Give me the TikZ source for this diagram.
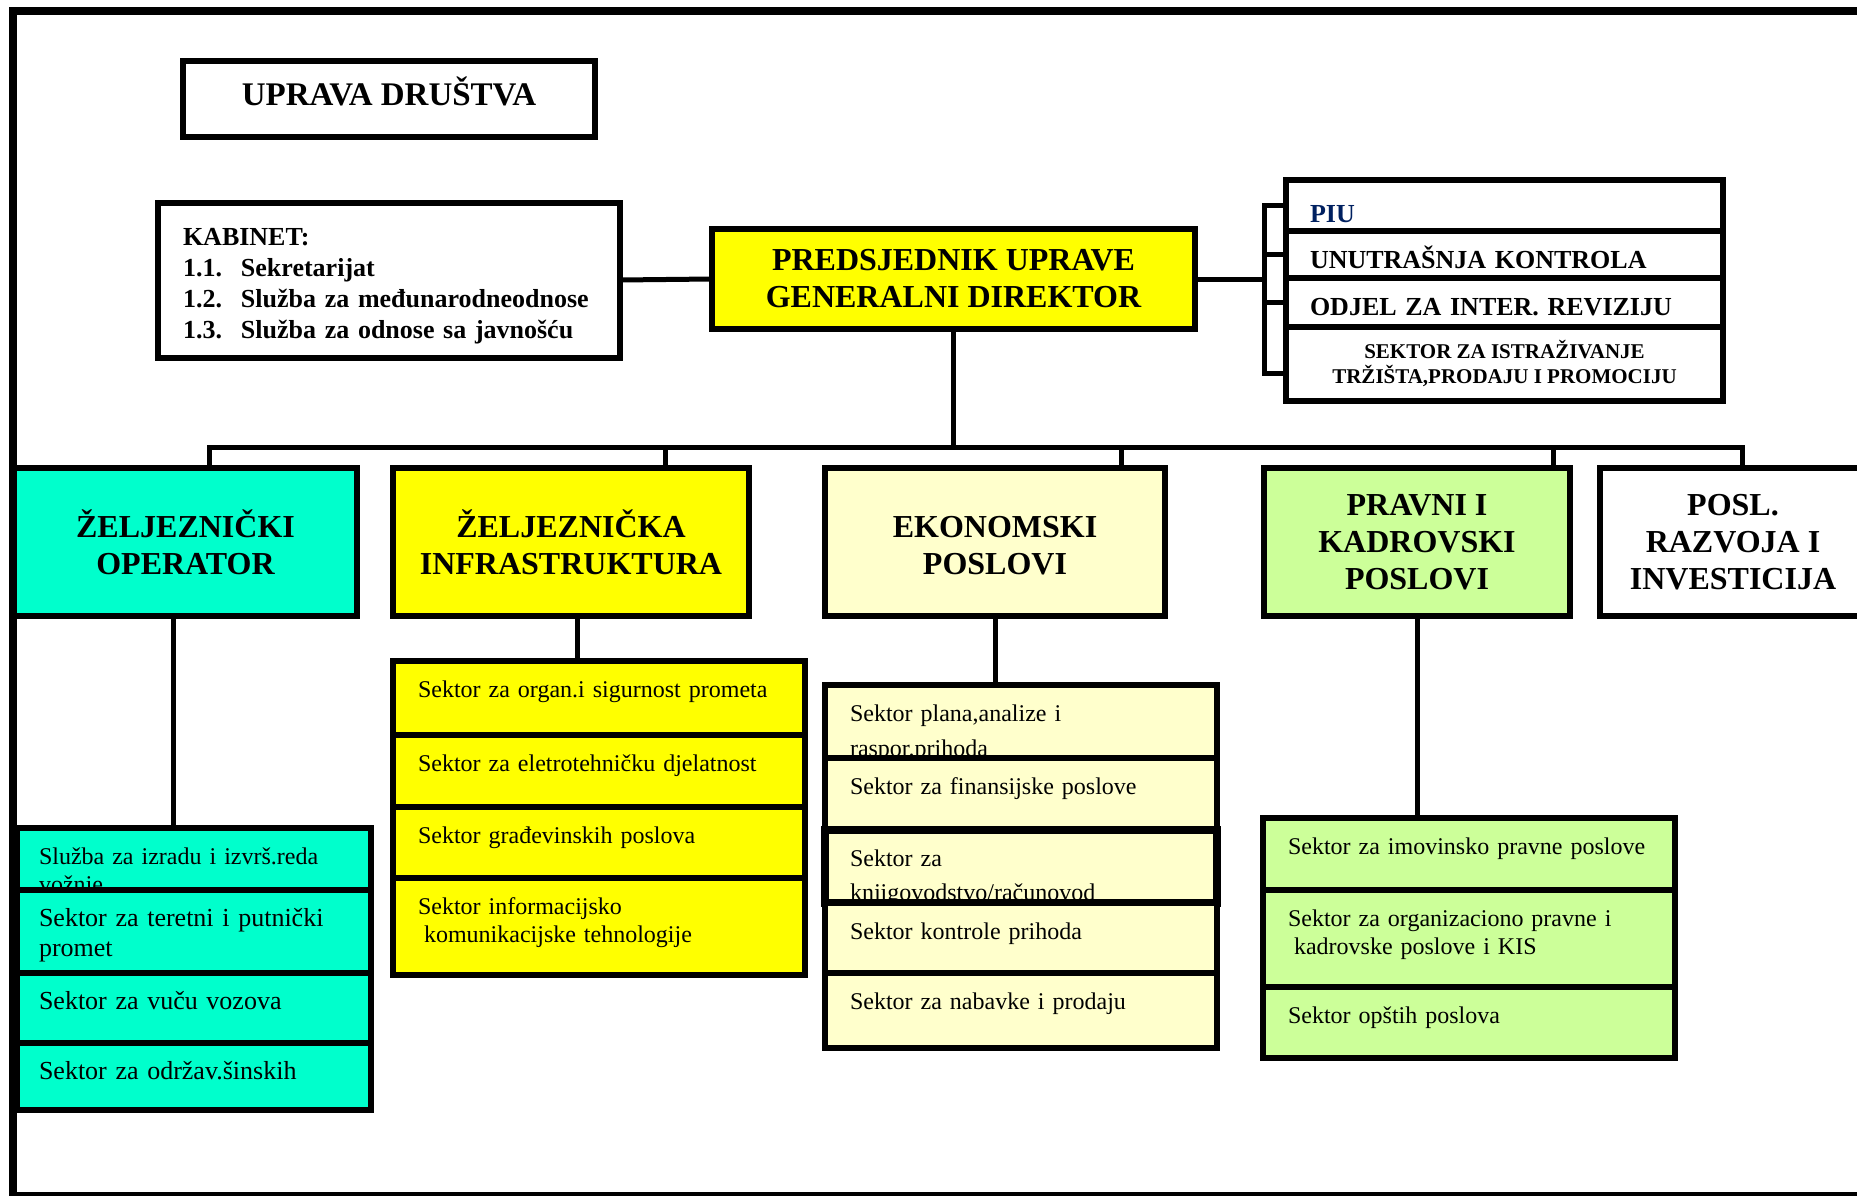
\documentclass[tikz,border=0pt]{standalone}
\usepackage{fontspec}
\setmainfont{Liberation Serif}
\usetikzlibrary{positioning}

\definecolor{opcyan}{RGB}{0,255,204}
\definecolor{infyellow}{RGB}{255,255,0}
\definecolor{ekocream}{RGB}{255,255,204}
\definecolor{pravgreen}{RGB}{204,255,153}
\definecolor{piublue}{RGB}{0,32,96}

\newcommand{\headfont}{\fontsize{32}{37}\selectfont\bfseries}
\newcommand{\kabfont}{\fontsize{26}{31}\selectfont\bfseries}
\newcommand{\rsfont}{\fontsize{26}{30}\selectfont\bfseries}
\newcommand{\sekfont}{\fontsize{21}{25}\selectfont\bfseries}
\newcommand{\rowfont}{\fontsize{24}{28}\selectfont}
\newcommand{\bigrowfont}{\fontsize{26}{30}\selectfont}

\begin{document}
\begin{tikzpicture}[x=1pt, y=-1pt]
    \tikzstyle{box}=[rectangle, draw=black, line width=6pt, outer sep=0pt]
    \tikzstyle{head}=[box, inner sep=0pt, minimum height=148pt, align=center, font=\headfont]
    \tikzstyle{rsrow}=[box, fill=white, inner xsep=24pt, inner ysep=0pt, text width=389pt, align=left, font=\rsfont]
    \tikzstyle{sektor}=[box, inner xsep=25pt, inner ysep=0pt, align=left, text height=36pt, font=\rowfont]
    \tikzstyle{opsek}=[sektor, fill=opcyan, inner xsep=22pt, text width=310pt]
    \tikzstyle{infsek}=[sektor, fill=infyellow, text width=362pt]
    \tikzstyle{ekosek}=[sektor, fill=ekocream, text width=342pt]
    \tikzstyle{pravsek}=[sektor, fill=pravgreen, text width=362pt]
    \tikzstyle{conn}=[line width=5pt, line cap=rect]

    \useasboundingbox (0,0) rectangle (1857,1196);
    % outer frame
    \draw[line width=8pt] (12.5,11) rectangle (1890,1196);

    % uprava and kabinet
    \node[box, minimum width=412pt, minimum height=76pt, text height=22pt, text depth=8pt, font=\fontsize{33}{38}\selectfont\bfseries] (uprava) at (389,99) {UPRAVA DRUŠTVA};
    \node[box, minimum height=155pt, inner xsep=25pt, text width=412pt, text height=29pt, align=left, font=\kabfont] (kabinet) at (389,280) {KABINET:\\
        \makebox[58pt][l]{1.1.}Sekretarijat\\
        \makebox[58pt][l]{1.2.}Služba za međunarodneodnose\\
        \makebox[58pt][l]{1.3.}Služba za odnose sa javnošću};
    \node[box, fill=infyellow, minimum width=483pt, minimum height=100pt, align=center, font=\fontsize{32}{37}\selectfont\bfseries] (predsj) at (953.5,279) {PREDSJEDNIK UPRAVE\\GENERALNI DIREKTOR};

    % services beside the president
    \node[rsrow, text=piublue, text height=42pt, text depth=9pt, anchor=north] (piu) at (1504.5,180) {PIU};
    \node[rsrow, text height=37pt, text depth=10pt, below=0pt of piu] (unutr) {UNUTRAŠNJA KONTROLA};
    \node[rsrow, text height=37.5pt, text depth=11.5pt, below=0pt of unutr] (odjel) {ODJEL ZA INTER. REVIZIJU};
    \node[box, minimum width=437pt, minimum height=74pt, align=center, font=\sekfont, below=0pt of odjel] (istraz) {SEKTOR ZA ISTRAŽIVANJE\\TRŽIŠTA,PRODAJU I PROMOCIJU};

    % main divisions
    \node[head, fill=opcyan, minimum width=343pt] (oper) at (185.5,542) {ŽELJEZNIČKI\\OPERATOR};
    \node[head, fill=infyellow, minimum width=356pt] (infra) at (571,542) {ŽELJEZNIČKA\\INFRASTRUKTURA};
    \node[head, fill=ekocream, minimum width=340pt] (ekon) at (995,542) {\vphantom{Ž}EKONOMSKI\\POSLOVI};
    \node[head, fill=pravgreen, minimum width=306pt] (pravni) at (1417,542) {PRAVNI I\\KADROVSKI\\POSLOVI};
    \node[head, fill=white, minimum width=266pt] (posl) at (1733,542) {POSL.\\RAZVOJA I\\INVESTICIJA};

    % operator sectors
    \node[opsek, text depth=26pt, anchor=north] (op1) at (194,828) {Služba za izradu i izvrš.reda\\vožnje};
    \node[opsek, text depth=47pt, font=\bigrowfont, below=0pt of op1] (op2) {Sektor za teretni i putnički\\promet};
    \node[opsek, text depth=34pt, font=\bigrowfont, below=0pt of op2] (op3) {Sektor za vuču vozova};
    \node[opsek, text depth=31pt, font=\bigrowfont, below=0pt of op3] (op4) {Sektor za održav.šinskih};

    % infrastructure sectors
    \node[infsek, text depth=38pt, anchor=north] (in1) at (599,661) {Sektor za organ.i sigurnost prometa};
    \node[infsek, text depth=36pt, below=0pt of in1] (in2) {Sektor za eletrotehničku djelatnost};
    \node[infsek, text depth=35pt, below=0pt of in2] (in3) {Sektor građevinskih poslova};
    \node[infsek, text depth=61pt, below=0pt of in3] (in4) {Sektor informacijsko\\\hspace*{6pt}komunikacijske tehnologije};

    % economy sectors
    \node[ekosek, text depth=37pt, anchor=north] (ek1) at (1021,685) {Sektor plana,analize i\\[7pt]raspor.prihoda};
    \node[ekosek, text depth=36pt, below=0pt of ek1] (ek2) {Sektor za finansijske poslove};
    \node[ekosek, text depth=37pt, line width=8pt, below=0pt of ek2] (ek3) {Sektor za\\[6pt]knjigovodstvo/računovod};
    \node[ekosek, text depth=34pt, below=0pt of ek3] (ek4) {Sektor kontrole prihoda};
    \node[ekosek, text depth=39pt, below=0pt of ek4] (ek5) {Sektor za nabavke i prodaju};

    % legal and personnel sectors
    \node[pravsek, text depth=36pt, anchor=north] (pr1) at (1469,818) {Sektor za imovinsko pravne poslove};
    \node[pravsek, text depth=61pt, below=0pt of pr1] (pr2) {Sektor za organizaciono pravne i\\\hspace*{6pt}kadrovske poslove i KIS};
    \node[pravsek, text depth=35pt, below=0pt of pr2] (pr3) {Sektor opštih poslova};

    % connectors
    \coordinate (b1) at (209,447);
    \coordinate (b2) at (665,447);
    \coordinate (b3) at (1121,447);
    \coordinate (b4) at (1553,447);
    \coordinate (b5) at (1742,447);
    \coordinate (brk) at (1264,279);

    \draw[conn] (kabinet.east) -- (predsj.west);
    \draw[conn] (predsj.east) -- (brk);
    \draw[conn] (piu.west) -| (brk);
    \draw[conn] (unutr.west) -| (brk);
    \draw[conn] (odjel.west) -| (brk);
    \draw[conn] ([yshift=-9pt]istraz.west) -| (brk);
    \draw[conn] (predsj.south) -- (predsj.south |- b1);
    \draw[conn] (b1) -- (b5);
    \foreach \b/\n in {b1/oper, b2/infra, b3/ekon, b4/pravni, b5/posl}
        \draw[conn] (\b) -- (\b |- \n.north);
    \draw[conn] ([xshift=-12.5pt]oper.south) -- ([xshift=-12.5pt]oper.south |- op1.north);
    \draw[conn] ([xshift=6pt]infra.south) -- ([xshift=6pt]infra.south |- in1.north);
    \draw[conn] (ekon.south) -- (ekon.south |- ek1.north);
    \draw[conn] (pravni.south) -- (pravni.south |- pr1.north);
\end{tikzpicture}
\end{document}
